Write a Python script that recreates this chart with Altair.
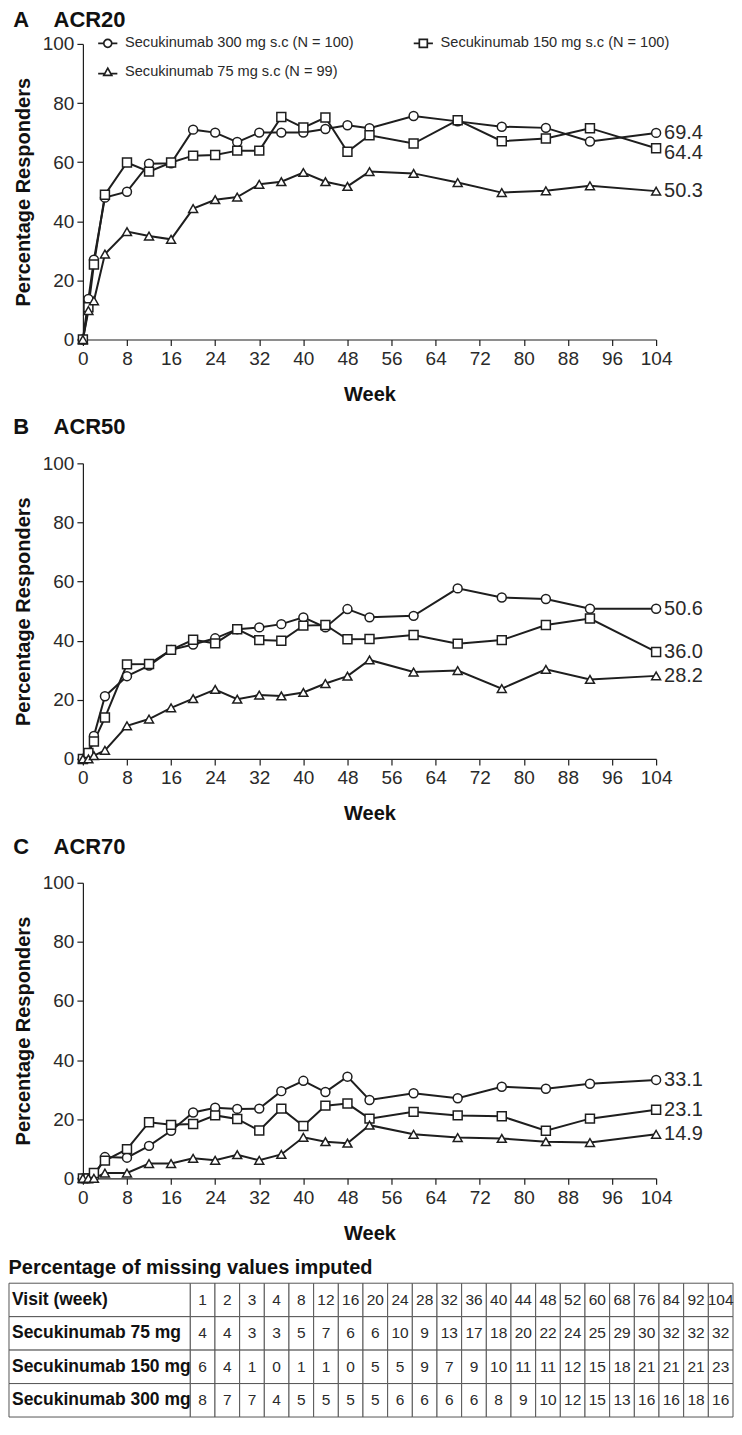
import altair as alt
import pandas as pd

# ---------------- data ----------------
weeks = [0, 1, 2, 4, 8, 12, 16, 20, 24, 28, 32, 36, 40, 44, 48, 52, 60, 68, 76, 84, 92, 104]
series_names = [
    "Secukinumab 300 mg s.c (N = 100)",
    "Secukinumab 150 mg s.c (N = 100)",
    "Secukinumab 75 mg s.c (N = 99)",
]
series_shapes = ["circle", "square", "triangle-up"]

acr20_300 = [0, 13.7, 27.0, 48.0, 50.0, 59.5, 59.6, 71.0, 70.0, 66.8, 70.0, 70.0, 70.0, 71.2, 72.5, 71.5, 75.6, 73.8, 72.0, 71.6, 67.0, 69.9]
acr20_150 = [0, 10.9, 25.4, 49.0, 59.9, 56.8, 59.9, 62.2, 62.4, 63.9, 63.9, 75.3, 71.7, 75.1, 63.5, 69.1, 66.3, 74.2, 67.1, 68.0, 71.5, 64.7]
acr20_75 = [0, 9.8, 13.1, 28.9, 36.5, 35.0, 33.9, 44.3, 47.3, 48.2, 52.5, 53.4, 56.5, 53.4, 51.8, 56.8, 56.2, 53.1, 49.7, 50.3, 52.0, 50.2]
acr20_end = ["69.4", "64.4", "50.3"]
acr20_end_pos = [70.0, 63.0, 50.3]

acr50_300 = [0, 2.0, 7.8, 21.2, 28.0, 31.6, 36.9, 38.7, 40.8, 43.9, 44.5, 45.6, 47.9, 44.5, 50.7, 47.9, 48.4, 57.7, 54.6, 54.1, 50.8, 50.8]
acr50_150 = [0, 2.0, 5.9, 14.0, 32.0, 32.1, 36.9, 40.3, 39.1, 43.9, 40.2, 40.0, 45.1, 45.3, 40.5, 40.6, 41.9, 39.0, 40.2, 45.3, 47.5, 36.2]
acr50_75 = [0, 0, 1.1, 2.9, 11.2, 13.5, 17.3, 20.4, 23.5, 20.2, 21.6, 21.3, 22.5, 25.5, 28.0, 33.5, 29.4, 29.9, 23.8, 30.3, 26.9, 28.1]
acr50_end = ["50.6", "36.0", "28.2"]
acr50_end_pos = [50.8, 36.2, 28.1]

acr70_300 = [0, 0, 0.5, 7.2, 7.0, 11.0, 16.1, 22.3, 23.9, 23.5, 23.6, 29.5, 33.0, 29.2, 34.4, 26.5, 28.8, 27.1, 31.0, 30.3, 32.0, 33.3]
acr70_150 = [0, 0, 1.8, 6.0, 9.9, 19.0, 18.1, 18.4, 21.3, 20.1, 16.2, 23.6, 17.7, 24.6, 25.3, 20.2, 22.5, 21.3, 21.0, 16.1, 20.2, 23.2]
acr70_75 = [0, 0, 0, 1.8, 1.8, 5.0, 5.0, 6.8, 6.1, 8.0, 6.1, 8.1, 13.9, 12.4, 11.9, 18.0, 14.9, 13.8, 13.5, 12.4, 12.1, 14.9]
acr70_end = ["33.1", "23.1", "14.9"]
acr70_end_pos = [33.3, 23.2, 14.9]

x_ticks = [0, 8, 16, 24, 32, 40, 48, 56, 64, 72, 80, 88, 96, 104]
y_ticks = [0, 20, 40, 60, 80, 100]

table_title = "Percentage of missing values imputed"
row_labels = ["Visit (week)", "Secukinumab 75 mg", "Secukinumab 150 mg", "Secukinumab 300 mg"]
visits = [1, 2, 3, 4, 8, 12, 16, 20, 24, 28, 32, 36, 40, 44, 48, 52, 60, 68, 76, 84, 92, 104]
missing_75 = [4, 4, 3, 3, 5, 7, 6, 6, 10, 9, 13, 17, 18, 20, 22, 24, 25, 29, 30, 32, 32, 32]
missing_150 = [6, 4, 1, 0, 1, 1, 0, 5, 5, 9, 7, 9, 10, 11, 11, 12, 15, 18, 21, 21, 21, 23]
missing_300 = [8, 7, 7, 4, 5, 5, 5, 5, 6, 6, 6, 6, 8, 9, 10, 12, 15, 13, 16, 16, 18, 16]

# legend glyphs: the marker with a short line through it (unit box -1..1)
CIRC = ("M1,0C1,0.552,0.552,1,0,1C-0.552,1,-1,0.552,-1,0"
        "C-1,-0.552,-0.552,-1,0,-1C0.552,-1,1,-0.552,1,0Z")
legend_glyphs = [
    "M-2.4,0L-1,0M1,0L2.4,0" + CIRC,
    "M-2.4,0L-1,0M1,0L2.4,0M-1,-1L1,-1L1,1L-1,1Z",
    "M-2.4,0.35L-0.75,0.35M0.75,0.35L2.4,0.35M0,-1L1,0.8L-1,0.8Z",
]

# ---------------- style ----------------
REG = "Liberation Sans, Arial, sans-serif"
BOLD = "Liberation Sans, Arial, sans-serif"
INK = "#1e1e1e"
TXT = "#2a2a2a"
PW, PH = 574, 296
LEG_FS = 14.6


def panel(title_text, s300, s150, s75, ends, end_pos, with_legend, title_offset):
    recs = []
    for sname, vals in zip(series_names, [s300, s150, s75]):
        for w, v in zip(weeks, vals):
            recs.append({"week": w, "value": v, "series": sname})
    df = pd.DataFrame(recs)
    end_df = pd.DataFrame({"week": [weeks[-1]] * 3, "value": end_pos, "label": ends})

    x = alt.X("week:Q", scale=alt.Scale(domain=[0, 104], nice=False, zero=False),
              axis=alt.Axis(values=x_ticks, title="Week"))
    y = alt.Y("value:Q", scale=alt.Scale(domain=[0, 100], nice=False),
              axis=alt.Axis(values=y_ticks, title="Percentage Responders"))

    line = alt.Chart(df).mark_line(strokeWidth=2, color=INK).encode(
        x=x, y=y, detail="series:N")
    pts = alt.Chart(df).mark_point(filled=True, fill="white", stroke=INK,
                                   strokeWidth=1.5, size=80, opacity=1).encode(
        x=x, y=y,
        shape=alt.Shape("series:N",
                        scale=alt.Scale(domain=series_names, range=series_shapes),
                        legend=None))
    lab = alt.Chart(end_df).mark_text(align="left", baseline="middle", dx=8,
                                      font=REG, fontSize=20, color=TXT).encode(
        x="week:Q", y="value:Q", text="label:N")
    layers = [line, pts, lab]

    if with_legend:
        leg = alt.Legend(orient="none", legendX=17.6, legendY=-8, columns=2,
                         direction="horizontal", columnPadding=56, rowPadding=13,
                         padding=0, symbolSize=64, symbolStrokeWidth=1.7,
                         labelFont=REG, labelFontSize=LEG_FS, labelColor=TXT,
                         labelOffset=10, labelLimit=400, title=None)
        legend_layer = alt.Chart(df).transform_filter("false").mark_point(
            filled=False, strokeWidth=1.7, opacity=1).encode(
            x=x, y=y,
            color=alt.Color("series:N",
                            scale=alt.Scale(domain=series_names, range=[INK, INK, INK]),
                            legend=None),
            shape=alt.Shape("series:N",
                            scale=alt.Scale(domain=series_names, range=legend_glyphs),
                            legend=leg))
        layers.append(legend_layer)

    return alt.layer(*layers).resolve_scale(shape="independent").properties(
        width=PW, height=PH,
        title=alt.TitleParams(title_text, anchor="start", frame="bounds",
                              font=BOLD, fontSize=22, fontWeight="bold",
                              color="#111", offset=title_offset),
    )


NB = "\u00a0"
pA = panel("A" + NB * 4 + "ACR20", acr20_300, acr20_150, acr20_75, acr20_end, acr20_end_pos, True, 3)
pB = panel("B" + NB * 4 + "ACR50", acr50_300, acr50_150, acr50_75, acr50_end, acr50_end_pos, False, 15)
pC = panel("C" + NB * 4 + "ACR70", acr70_300, acr70_150, acr70_75, acr70_end, acr70_end_pos, False, 15)

# ---------------- table ----------------
LABEL_UNITS = 7.35
n_cols = len(visits)
cells = []
for r, (lab, vals) in enumerate(zip(row_labels, [visits, missing_75, missing_150, missing_300])):
    cells.append({"row": r, "row2": r + 1, "x0": -LABEL_UNITS, "x1": 0,
                  "xt": -LABEL_UNITS, "text": lab, "kind": "label"})
    for c, v in enumerate(vals):
        cells.append({"row": r, "row2": r + 1, "x0": c, "x1": c + 1,
                      "xt": c + 0.5, "text": str(v), "kind": "num"})
tdf = pd.DataFrame(cells)
tdf["ymid"] = tdf["row"] + 0.5

tx = alt.Scale(domain=[-LABEL_UNITS, n_cols], range=[-74, 651], nice=False, zero=False)
ty = alt.Scale(domain=[0, 4], range=[-19, 115], nice=False, zero=False)

rects = alt.Chart(tdf).mark_rect(fill="white", stroke="#555", strokeWidth=1).encode(
    x=alt.X("x0:Q", scale=tx, axis=None), x2="x1:Q",
    y=alt.Y("row:Q", scale=ty, axis=None), y2="row2:Q")
lab_txt = alt.Chart(tdf).transform_filter("datum.kind == 'label'").mark_text(
    align="left", baseline="middle", dx=3, font=BOLD, fontWeight="bold",
    fontSize=17.5, color="#111").encode(
    x=alt.X("xt:Q", scale=tx, axis=None), y=alt.Y("ymid:Q", scale=ty, axis=None),
    text="text:N")
num_txt = alt.Chart(tdf).transform_filter("datum.kind == 'num'").mark_text(
    align="center", baseline="middle", font=REG, fontSize=15.5, color=TXT).encode(
    x=alt.X("xt:Q", scale=tx, axis=None), y=alt.Y("ymid:Q", scale=ty, axis=None),
    text="text:N")

table = alt.layer(rects, lab_txt, num_txt).properties(
    width=PW, height=115,
    title=alt.TitleParams(table_title, anchor="start", frame="bounds", font=BOLD,
                          fontSize=20, fontWeight="bold", color="#111", offset=5),
)

chart = alt.vconcat(pA, pB, pC, table, spacing=124, bounds="flush").resolve_scale(
    shape="independent", color="independent"
).properties(
    padding=0
).configure_view(stroke=None).configure_legend(
    symbolBaseStrokeColor=INK, symbolBaseFillColor="transparent"
).configure_axis(
    grid=False, domainColor=INK, tickColor=INK, domainWidth=1.2, tickWidth=1.2,
    tickSize=6, labelFont=REG, labelFontSize=19, labelColor=TXT,
    labelFlush=False, labelOverlap=False,
    titleFont=BOLD, titleFontSize=20, titleFontWeight="bold", titleColor="#111",
).configure_axisX(labelPadding=4, titlePadding=16).configure_axisY(
    labelPadding=3, titlePadding=9)

chart.save("out.html", embed_options={"renderer": "svg", "actions": False})
